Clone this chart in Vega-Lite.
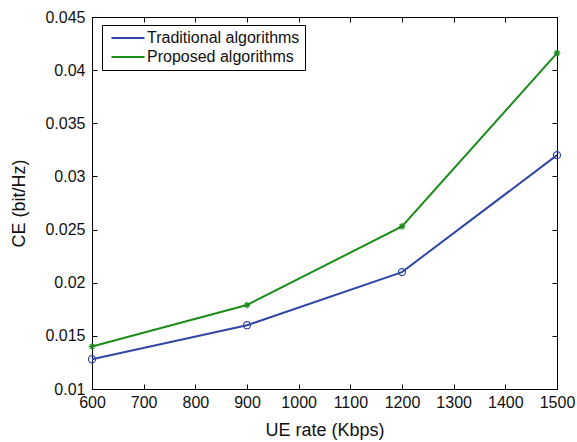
{
  "$schema": "https://vega.github.io/schema/vega-lite/v6.json",
  "autosize": {"type": "none"},
  "width": 465,
  "height": 372,
  "padding": {"left": 92, "top": 17, "right": 20, "bottom": 53},
  "background": "white",
  "config": {
    "font": "Liberation Sans",
    "view": {"stroke": "black", "strokeWidth": 1},
    "axis": {
      "grid": false,
      "domainColor": "black",
      "tickColor": "black",
      "labelColor": "#111",
      "titleColor": "#111",
      "labelFont": "Liberation Sans",
      "titleFont": "Liberation Sans",
      "labelFontSize": 16,
      "titleFontSize": 18,
      "titleFontWeight": "normal",
      "tickSize": -5,
      "labelPadding": 12,
      "labelFlush": false,
      "labelOverlap": false
    }
  },
  "data": {
    "values": [
      {"rate": 600, "ce": 0.0128, "series": "Traditional algorithms"},
      {"rate": 900, "ce": 0.0160, "series": "Traditional algorithms"},
      {"rate": 1200, "ce": 0.0210, "series": "Traditional algorithms"},
      {"rate": 1500, "ce": 0.0320, "series": "Traditional algorithms"},
      {"rate": 600, "ce": 0.0140, "series": "Proposed algorithms"},
      {"rate": 900, "ce": 0.0179, "series": "Proposed algorithms"},
      {"rate": 1200, "ce": 0.0253, "series": "Proposed algorithms"},
      {"rate": 1500, "ce": 0.0416, "series": "Proposed algorithms"}
    ]
  },
  "resolve": {"axis": {"x": "independent", "y": "independent"}},
  "layer": [
    {
      "layer": [
        {
          "mark": {"type": "line", "strokeWidth": 2},
          "encoding": {
            "x": {"field": "rate", "type": "quantitative", "scale": {"domain": [600, 1500], "nice": false},
              "axis": {"title": "UE rate (Kbps)", "values": [600,700,800,900,1000,1100,1200,1300,1400,1500], "format": "d", "labelPadding": 10, "titlePadding": 11}},
            "y": {"field": "ce", "type": "quantitative", "scale": {"domain": [0.01, 0.045], "nice": false, "zero": false},
              "axis": {"title": "CE (bit/Hz)", "values": [0.01,0.015,0.02,0.025,0.03,0.035,0.04,0.045], "format": "~g", "titlePadding": 16}},
            "color": {"field": "series", "type": "nominal",
              "scale": {"domain": ["Traditional algorithms", "Proposed algorithms"], "range": ["#3346a6", "#1b8c1b"]},
              "legend": {
                "title": null, "orient": "none", "legendX": 10, "legendY": 8,
                "symbolType": "M-3,0L3,0", "symbolSize": 121, "symbolStrokeWidth": 2,
                "labelFontSize": 16, "labelFont": "Liberation Sans", "labelColor": "#111",
                "strokeColor": "black", "fillColor": "white", "padding": 5, "rowPadding": 3,
                "labelOffset": 11, "symbolOffset": 13
              }}
          }
        },
        {
          "transform": [{"filter": "datum.series == 'Traditional algorithms'"}],
          "mark": {"type": "point", "filled": false, "strokeWidth": 1.2, "opacity": 1, "color": "#3346a6", "shape": "circle", "size": 50},
          "encoding": {
            "x": {"field": "rate", "type": "quantitative"},
            "y": {"field": "ce", "type": "quantitative"}
          }
        },
        {
          "transform": [{"filter": "datum.series == 'Proposed algorithms'"}],
          "mark": {"type": "point", "filled": false, "strokeWidth": 1.2, "opacity": 1, "color": "#1b8c1b", "shape": "M-1,0L1,0M0,-1L0,1M-0.7,-0.7L0.7,0.7M-0.7,0.7L0.7,-0.7", "size": 45},
          "encoding": {
            "x": {"field": "rate", "type": "quantitative"},
            "y": {"field": "ce", "type": "quantitative"}
          }
        }
      ]
    },
    {
      "mark": {"type": "rule", "opacity": 0},
      "encoding": {
        "x": {"field": "rate", "type": "quantitative", "axis": {"orient": "top", "labels": false, "title": null, "values": [600,700,800,900,1000,1100,1200,1300,1400,1500]}},
        "y": {"field": "ce", "type": "quantitative", "axis": {"orient": "right", "labels": false, "title": null, "values": [0.01,0.015,0.02,0.025,0.03,0.035,0.04,0.045]}}
      }
    }
  ]
}
